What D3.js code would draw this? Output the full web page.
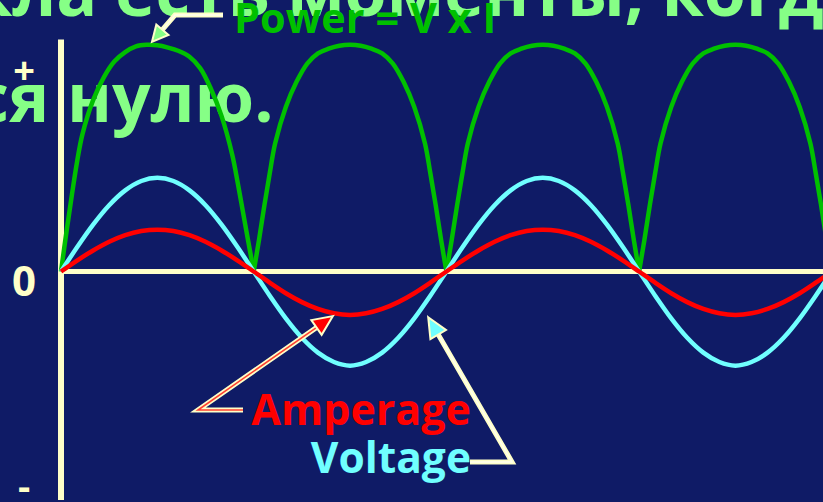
<!DOCTYPE html>
<html>
<head>
<meta charset="utf-8">
<script src="https://cdn.jsdelivr.net/npm/d3@7"></script>
<style>
html, body { margin: 0; padding: 0; background: #0f1b66; overflow: hidden; }
text { font-family: "Open Sans", sans-serif; font-weight: bold; }
</style>
</head>
<body>
<svg id="chart" width="823" height="502"></svg>
<script>
// phase of the voltage wave, in degrees
var phase = [0,15,30,45,60,75,90,105,120,135,150,165,
  180,195,210,225,240,255,270,285,300,315,330,345,
  360,375,390,405,420,435,450,465,480,495,510,525,
  540,555,570,585,600,615,630,645,660,675,690,705,720];

var voltage = [0,10.6,20.5,29,35.5,39.6,41,39.6,35.5,29,20.5,10.6,
  0,-10.6,-20.5,-29,-35.5,-39.6,-41.2,-39.6,-35.5,-29,-20.5,-10.6,
  0,10.6,20.5,29,35.5,39.6,41,39.6,35.5,29,20.5,10.6,
  0,-10.6,-20.5,-29,-35.5,-39.6,-41.2,-39.6,-35.5,-29,-20.5,-10.6,0];

var amperage = [0,4.8,9.2,13,15.9,17.7,18.3,17.7,15.9,13,9.2,4.8,
  0,-4.9,-9.5,-13.4,-16.4,-18.3,-19,-18.3,-16.4,-13.4,-9.5,-4.9,
  0,4.8,9.2,13,15.9,17.7,18.3,17.7,15.9,13,9.2,4.8,
  0,-4.9,-9.5,-13.4,-16.4,-18.3,-19,-18.3,-16.4,-13.4,-9.5,-4.9,0];

// power curve is read more densely near the zero cusps
var powerPhase = [0,5,10,15,20,30,40,50,60,70,80,90,100,110,120,130,140,150,160,165,170,175,
  180,185,190,195,200,210,220,230,240,250,260,270,280,290,300,310,320,330,340,345,350,355,
  360,365,370,375,380,390,400,410,420,430,440,450,460,470,480,490,500,510,520,525,530,535,
  540,545,550,555,560,570,580,590,600,610,620,630,640,650,660,670,680,690,700,705,710,715,720];

var power = [0,17,33,48,60,75,85,92,96,98.5,99.2,99,98,96.5,94,89,80,68,51,39,26,13,
  0,14,29,43,56,72,83,91,95.5,97.5,98.8,99.2,98.8,97.5,95.5,91,83,72,56,43,29,14,
  0,14,29,43,56,72,83,91,95.5,97.5,98.8,99.2,98.8,97.5,95.5,91,83,72,56,43,29,14,
  0,14,29,43,56,72,83,91,95.5,97.5,98.8,99.2,98.8,97.5,95.5,91,83,72,56,43,29,14,0];

var seriesNames = ["Power = V x I", "Amperage", "Voltage"];
var signLabels = ["+", "0", "-"];
var signValues = [88, -4, -94];

var titleLines = ["цикла есть моменты, когда", "равняется нулю."];

var svg = d3.select("#chart");
var width = +svg.attr("width"), height = +svg.attr("height");

var cream = "#ffffc8", navy = "#0f1b66";
var cPower = "#00c000", cVolt = "#70ffff", cAmp = "#ff0000", cTitle = "#86ff86";

var x = d3.scaleLinear().domain([0, 720]).range([61, 831.8]);
var y = d3.scaleLinear().domain([-100, 100]).range([500, 43]);

svg.append("rect").attr("width", width).attr("height", height).attr("fill", navy);

// big slide title, partly off the left and top edges
var title = svg.append("g").attr("fill", cTitle).attr("font-size", 68);
var t1 = title.append("text").attr("y", 16).text(titleLines[0]);
t1.attr("x", 115 - t1.node().getSubStringLength(0, 6));
var t2 = title.append("text").attr("y", 122).text(titleLines[1]);
t2.attr("x", 67 - t2.node().getSubStringLength(0, 10));

// axes
svg.append("line")
  .attr("x1", x(0)).attr("x2", x(0))
  .attr("y1", y(101.5)).attr("y2", y(-100))
  .attr("stroke", cream).attr("stroke-width", 6);
svg.append("line")
  .attr("x1", x(0)).attr("x2", width)
  .attr("y1", y(0)).attr("y2", y(0))
  .attr("stroke", cream).attr("stroke-width", 5);

svg.selectAll(".sign")
  .data(signLabels)
  .enter().append("text")
  .attr("class", "sign")
  .attr("x", 24)
  .attr("y", function(d, i) { return y(signValues[i]); })
  .attr("dy", "0.36em")
  .attr("text-anchor", "middle")
  .attr("fill", cream)
  .attr("font-size", function(d, i) { return i == 1 ? 42 : 38; })
  .text(function(d) { return d; });

// power drawn lobe by lobe so the cusps at zero stay sharp
var lobes = [], cur = [];
powerPhase.forEach(function(p, i) {
  cur.push([p, power[i]]);
  if (power[i] == 0 && i > 0) { lobes.push(cur); cur = [[p, 0]]; }
});

var line = d3.line()
  .x(function(d) { return x(d[0]); })
  .y(function(d) { return y(d[1]); })
  .curve(d3.curveMonotoneX);

var lobeLine = d3.line()
  .x(function(d) { return x(d[0]); })
  .y(function(d) { return y(d[1]); })
  .curve(d3.curveCatmullRom.alpha(0.5));

svg.append("g").selectAll("path")
  .data(lobes)
  .enter().append("path")
  .attr("d", lobeLine)
  .attr("fill", "none")
  .attr("stroke", cPower)
  .attr("stroke-width", 4.5);

svg.append("path")
  .attr("d", line(phase.map(function(p, i) { return [p, voltage[i]]; })))
  .attr("fill", "none").attr("stroke", cVolt).attr("stroke-width", 4.5);

svg.append("path")
  .attr("d", line(phase.map(function(p, i) { return [p, amperage[i]]; })))
  .attr("fill", "none").attr("stroke", cAmp).attr("stroke-width", 4.5);

// labels
svg.append("text").attr("x", 234).attr("y", 33)
  .attr("font-size", 41.5).attr("fill", cPower).text(seriesNames[0]);
svg.append("text").attr("x", 471).attr("y", 425).attr("text-anchor", "end")
  .attr("font-size", 43).attr("fill", cAmp).text(seriesNames[1]);
svg.append("text").attr("x", 471).attr("y", 473).attr("text-anchor", "end")
  .attr("font-size", 42.5).attr("fill", cVolt).text(seriesNames[2]);

// elbow callout arrows: tail points in pixels, tip on the curve in data units
function arrow(pts, tip, inner, head, len, half) {
  var tx = x(tip[0]), ty = y(tip[1]);
  var last = pts[pts.length - 1];
  var dx = tx - last[0], dy = ty - last[1], L = Math.sqrt(dx * dx + dy * dy);
  var ux = dx / L, uy = dy / L;
  var bx = tx - ux * len, by = ty - uy * len;
  var all = pts.concat([[bx + ux * 2, by + uy * 2]]);
  var g = svg.append("g");
  g.append("path").attr("d", d3.line()(all)).attr("fill", "none")
    .attr("stroke", cream).attr("stroke-width", 5).attr("stroke-linejoin", "miter");
  g.append("path").attr("d", d3.line()(all)).attr("fill", "none")
    .attr("stroke", inner).attr("stroke-width", 1.6);
  g.append("path")
    .attr("d", d3.line()([[tx, ty], [bx - uy * half, by + ux * half], [bx + uy * half, by - ux * half]]) + "Z")
    .attr("fill", head).attr("stroke", cream).attr("stroke-width", 2).attr("stroke-linejoin", "miter");
}

arrow([[223, 15], [175, 15]], [85, 100.5], "#ffffee", cTitle, 16, 8);
arrow([[243, 410], [198, 410]], [254, -19.5], "#ff4030", cAmp, 20, 9);
arrow([[470, 462], [512, 462]], [343, -20], "#ffffee", cVolt, 20, 9);
</script>
</body>
</html>
